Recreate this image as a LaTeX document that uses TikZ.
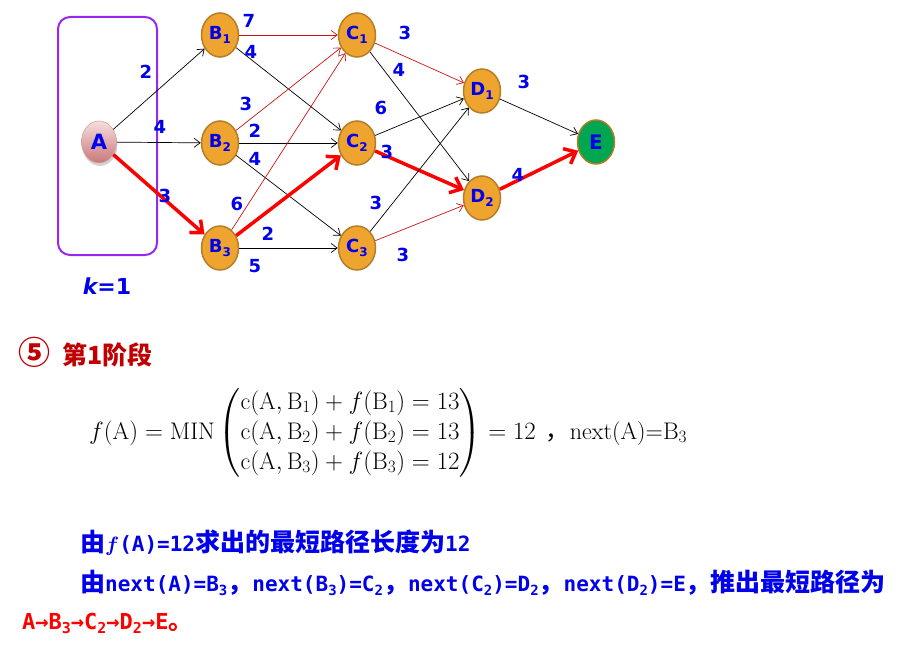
\documentclass[tikz,border=0pt]{standalone}
\usepackage{fontspec}
\usepackage{amsmath}
\setsansfont{DejaVu Sans}
\newfontfamily\cjk{Noto Sans CJK SC}
\newfontfamily\monofnt{DejaVu Sans Mono}
\usetikzlibrary{arrows.meta,shapes.geometric,shadows}
\definecolor{nodeor}{RGB}{240,164,48}
\definecolor{nodebd}{RGB}{180,125,40}
\definecolor{lblue}{RGB}{0,0,235}
\definecolor{tred}{RGB}{205,20,20}
\definecolor{bred}{RGB}{255,0,0}
\definecolor{hred}{RGB}{192,0,0}
\definecolor{egreen}{RGB}{0,166,80}
\definecolor{purp}{RGB}{150,40,240}
\newcommand{\lowsub}[3]{\raisebox{-#2pt}{\fontsize{#1}{#1}\selectfont #3}}
\begin{document}
\begin{tikzpicture}[x=1pt,y=-1pt,
  stage/.style={ellipse, draw=nodebd, line width=1.5pt, fill=nodeor, minimum width=37pt, minimum height=44pt, inner sep=0pt, font=\fontsize{18}{18}\selectfont\sffamily\bfseries, text=lblue},
  lbl/.style={font=\fontsize{18}{18}\selectfont\sffamily\bfseries, text=lblue, inner sep=0pt},
  blk/.style={-{Straight Barb[length=6pt,width=9pt]}, line width=0.7pt, black},
  rthin/.style={-{Straight Barb[length=6pt,width=9pt]}, line width=0.7pt, tred},
  rthick/.style={-{Straight Barb[length=10pt,width=17pt]}, line width=3.5pt, bred},
  txt/.style={anchor=west, inner sep=0pt}
]
\useasboundingbox (0,0) rectangle (909,652);
% stage box
\node[draw=purp, line width=2pt, rounded corners=12pt, minimum width=99pt, minimum height=238pt] (box) at (107.5,136) {};
% nodes
\node[ellipse, minimum width=35pt, minimum height=42pt, inner sep=0pt, top color={rgb,255:red,246;green,222;blue,222}, bottom color={rgb,255:red,200;green,120;blue,120}, draw={rgb,255:red,215;green,160;blue,160}, line width=0.6pt, drop shadow={shadow xshift=1pt, shadow yshift=-3pt, opacity=0.35}, font=\fontsize{21}{21}\selectfont\sffamily\bfseries, text=lblue] (A) at (99,142) {A};
\node[stage] (B1) at (220,35) {B\lowsub{12}{4}{1}};
\node[stage] (B2) at (220,143) {B\lowsub{12}{4}{2}};
\node[stage] (B3) at (220,248) {B\lowsub{12}{4}{3}};
\node[stage] (C1) at (357,35) {C\lowsub{12}{4}{1}};
\node[stage] (C2) at (357,143) {C\lowsub{12}{4}{2}};
\node[stage] (C3) at (357,248) {C\lowsub{12}{4}{3}};
\node[stage] (D1) at (482,91) {D\lowsub{12}{4}{1}};
\node[stage] (D2) at (482,198) {D\lowsub{12}{4}{2}};
\node[stage, fill=egreen, font=\fontsize{20}{20}\selectfont\sffamily\bfseries] (E) at (596,142) {E};
% edges
\draw[blk] (A) -- (B1);
\draw[blk] (A) -- (B2);
\draw[rthick] (A) -- (B3);
\draw[rthin] (B1) -- (C1);
\draw[blk] (B1) -- (C2);
\draw[rthin] (B2) -- (C1);
\draw[blk] (B2) -- (C2);
\draw[blk] (B2) -- (C3);
\draw[rthin] (B3) -- (C1);
\draw[rthick] (B3) -- (C2);
\draw[blk] (B3) -- (C3);
\draw[rthin] (C1) -- (D1);
\draw[blk] (C1) -- (D2);
\draw[blk] (C2) -- (D1);
\draw[rthick] (C2) -- (D2);
\draw[blk] (C3) -- (D1);
\draw[rthin] (C3) -- (D2);
\draw[blk] (D1) -- (E);
\draw[rthick] (D2) -- (E);
% edge labels
\node[lbl] (w1) at (146,72) {2};
\node[lbl] (w2) at (160,127) {4};
\node[lbl] (w3) at (165,196) {3};
\node[lbl] (w4) at (249,21) {7};
\node[lbl] (w5) at (251,52) {4};
\node[lbl] (w6) at (246,104) {3};
\node[lbl] (w7) at (255,131) {2};
\node[lbl] (w8) at (255,159) {4};
\node[lbl] (w9) at (237,204) {6};
\node[lbl] (w10) at (268,234) {2};
\node[lbl] (w11) at (255,266) {5};
\node[lbl] (w12) at (405,33) {3};
\node[lbl] (w13) at (399,70) {4};
\node[lbl] (w14) at (381,108) {6};
\node[lbl] (w15) at (387,152) {3};
\node[lbl] (w16) at (376,203) {3};
\node[lbl] (w17) at (403,255) {3};
\node[lbl] (w18) at (524,82) {3};
\node[lbl] (w19) at (518,175) {4};
% k=1
\node[font=\fontsize{22}{22}\selectfont\sffamily\bfseries, text=lblue, inner sep=0pt] (k) at (107,286) {\itshape k\upshape =1};
% heading
\node[txt, text=hred, font=\fontsize{25}{25}\selectfont\cjk\bfseries] (h) at (18,352) {{\fontsize{32}{32}\selectfont ⑤}\hspace{12pt}第1阶段};
% formula
\node[txt, font=\fontsize{24}{30}\selectfont] (fa) at (89,433) {$f(\mathrm{A}) = \mathrm{MIN}\begin{pmatrix}
\mathrm{c}(\mathrm{A},\mathrm{B}_1)+f(\mathrm{B}_1)=13\\
\mathrm{c}(\mathrm{A},\mathrm{B}_2)+f(\mathrm{B}_2)=13\\
\mathrm{c}(\mathrm{A},\mathrm{B}_3)+f(\mathrm{B}_3)=12
\end{pmatrix} = 12$\hspace{10pt}{\cjk ，}next(A)=B$_3$};
% text lines
\node[txt, text=lblue, font=\fontsize{21}{21}\selectfont\monofnt\bfseries] (l1) at (80,543) {{\cjk\fontsize{25}{25}\selectfont 由}$\boldsymbol{f}$(A)=12{\cjk\fontsize{25}{25}\selectfont 求出的最短路径长度为}12};
\node[txt, text=lblue, font=\fontsize{21}{21}\selectfont\monofnt\bfseries] (l2) at (80,583) {{\cjk\fontsize{25}{25}\selectfont 由}next(A)=B\lowsub{14}{4}{3}{\cjk\fontsize{25}{25}\selectfont ，}next(B\lowsub{14}{4}{3})=C\lowsub{14}{4}{2}{\cjk\fontsize{25}{25}\selectfont ，}next(C\lowsub{14}{4}{2})=D\lowsub{14}{4}{2}{\cjk\fontsize{25}{25}\selectfont ，}next(D\lowsub{14}{4}{2})=E{\cjk\fontsize{25}{25}\selectfont ，推出最短路径为}};
\node[txt, text=bred, font=\fontsize{22}{22}\selectfont\monofnt\bfseries] (l3) at (22,623) {A→B\lowsub{15}{4}{3}→C\lowsub{15}{4}{2}→D\lowsub{15}{4}{2}→E{\cjk\fontsize{25}{25}\selectfont 。}};
\end{tikzpicture}
\end{document}
